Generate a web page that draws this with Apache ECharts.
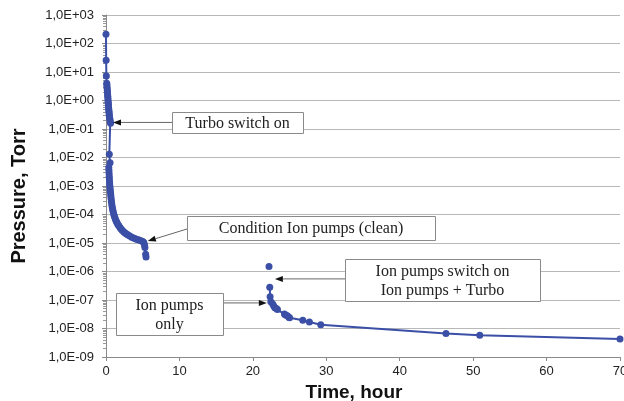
<!DOCTYPE html>
<html>
<head>
<meta charset="utf-8">
<script src="https://cdn.jsdelivr.net/npm/echarts@6/dist/echarts.min.js"></script>
<style>
html,body{margin:0;padding:0;background:#fff;}
#c{width:624px;height:401px;}
</style>
</head>
<body>
<div id="c"></div>
<script>
// ---- DATA (time in hours, pressure in Torr) ----
// Pump-down with roughing + turbo
const timeA = [0.0, 0.02, 0.05, 0.10, 0.12, 0.14, 0.16, 0.18, 0.20, 0.22, 0.24, 0.26, 0.28, 0.30, 0.32, 0.34, 0.36, 0.38, 0.40, 0.42, 0.44, 0.46, 0.50, 0.54, 0.58, 0.62,
  0.45, 0.55, 0.38, 0.40, 0.42, 0.44, 0.46, 0.48, 0.50, 0.52, 0.55, 0.58, 0.61, 0.64, 0.67, 0.70, 0.74, 0.78, 0.82, 0.87, 0.92, 0.98, 1.05, 1.12, 1.20, 1.30, 1.40, 1.50, 1.62, 1.75, 1.90, 2.05, 2.20, 2.40, 2.60, 2.80, 3.00, 3.25, 3.50, 3.75, 4.00, 4.25, 4.50, 4.75, 5.00, 5.15, 5.25, 5.30, 5.40, 5.45];
const pressA = [210, 26, 7.2, 4.0, 3.5, 3.0, 2.6, 2.2, 1.9, 1.6, 1.4, 1.2, 1.0, 0.85, 0.75, 0.65, 0.55, 0.48, 0.42, 0.37, 0.32, 0.28, 0.24, 0.21, 0.18, 0.16,
  1.3e-2, 6.6e-3, 4.5e-3, 3.6e-3, 2.8e-3, 2.2e-3, 1.8e-3, 1.45e-3, 1.2e-3, 1.0e-3, 8.5e-4, 7.2e-4, 6.0e-4, 5.0e-4, 4.2e-4, 3.5e-4, 2.9e-4, 2.4e-4, 2.0e-4, 1.7e-4, 1.45e-4, 1.25e-4, 1.05e-4, 9.0e-5, 7.8e-5, 6.7e-5, 5.8e-5, 5.1e-5, 4.5e-5, 4.0e-5, 3.5e-5, 3.1e-5, 2.8e-5, 2.5e-5, 2.25e-5, 2.05e-5, 1.9e-5, 1.75e-5, 1.6e-5, 1.5e-5, 1.4e-5, 1.33e-5, 1.27e-5, 1.2e-5, 1.12e-5, 1.05e-5, 8.5e-6, 7.0e-6, 4.0e-6, 3.2e-6];
// Ion pumps switch on (single reading)
const timeB = [22.2];
const pressB = [1.5e-6];
// Ion pumps + turbo, then ion pumps only
const timeC = [22.3, 22.35, 22.45, 22.7, 22.85, 23.0, 23.2, 23.35, 24.3, 24.45, 24.7, 24.9, 25.0, 26.8, 27.7, 29.25, 46.3, 50.9, 70.0];
const pressC = [2.8e-7, 1.3e-7, 8.7e-8, 7.2e-8, 6.2e-8, 5.4e-8, 5.0e-8, 4.6e-8, 3.2e-8, 3.0e-8, 2.8e-8, 2.5e-8, 2.4e-8, 1.95e-8, 1.7e-8, 1.35e-8, 6.7e-9, 5.8e-9, 4.3e-9];

const xTicks = [0, 10, 20, 30, 40, 50, 60, 70];
const yTickLabels = ['1,0E-09','1,0E-08','1,0E-07','1,0E-06','1,0E-05','1,0E-04','1,0E-03','1,0E-02','1,0E-01','1,0E+00','1,0E+01','1,0E+02','1,0E+03'];

// annotations: text and the data point each arrow points to
const notes = [
  {text: 'Turbo switch on', tip: [0.95, 0.17]},
  {text: 'Condition Ion pumps (clean)', tip: [5.7, 1.17e-5]},
  {text: 'Ion pumps switch on\nIon pumps + Turbo', tip: [23.0, 5.5e-7]},
  {text: 'Ion pumps\nonly', tip: [21.9, 7.9e-8]}
];

const zip = (xs, ys) => xs.map((x, i) => [x, ys[i]]);
const COLOR = '#3b4fa6';
const FONT = '"Liberation Sans", Arial, sans-serif';
const SERIF = '"Liberation Serif", "Times New Roman", serif';

const chart = echarts.init(document.getElementById('c'), null, {renderer: 'canvas'});
const seriesBase = {
  type: 'line', symbol: 'circle', symbolSize: 7, showAllSymbol: true,
  itemStyle: {color: COLOR}, lineStyle: {color: COLOR, width: 2}, clip: false,
  animation: false
};
chart.setOption({
  animation: false,
  grid: {left: 106, right: 4, top: 15, bottom: 44, outerBoundsMode: 'none', containLabel: false},
  xAxis: {
    type: 'value', min: xTicks[0], max: xTicks[xTicks.length - 1], interval: 10,
    axisLine: {lineStyle: {color: '#8a8a8a', width: 1}},
    axisTick: {show: true, length: 4, lineStyle: {color: '#8a8a8a'}},
    splitLine: {show: false},
    axisLabel: {color: '#222', fontSize: 13, fontFamily: FONT, margin: 8}
  },
  yAxis: {
    type: 'log', logBase: 10, min: 1e-9, max: 1e3, interval: 1, splitNumber: 12,
    axisLine: {show: true, lineStyle: {color: '#8a8a8a', width: 1}},
    axisTick: {show: true, length: 4, lineStyle: {color: '#8a8a8a'}},
    minorTick: {show: true, splitNumber: 9, length: 3, lineStyle: {color: '#9a9a9a'}},
    splitLine: {show: true, lineStyle: {color: '#b8b8b8', width: 1.2}},
    axisLabel: {
      color: '#222', fontSize: 13, fontFamily: FONT, margin: 12, showMinLabel: true, showMaxLabel: true,
      formatter: v => yTickLabels[Math.round(Math.log10(v)) + 9]
    }
  },
  series: [
    Object.assign({}, seriesBase, {data: zip(timeA, pressA)}),
    Object.assign({}, seriesBase, {data: zip(timeB, pressB)}),
    Object.assign({}, seriesBase, {data: zip(timeC, pressC)})
  ]
});

// axis titles and annotation boxes (layout in pixels), arrows point to data positions
const els = [
  {type: 'text', x: 19, y: 196, rotation: Math.PI / 2,
   style: {text: 'Pressure, Torr', fill: '#111', font: 'bold 20px ' + FONT, align: 'center', verticalAlign: 'middle'}},
  {type: 'text', x: 354, y: 393,
   style: {text: 'Time, hour', fill: '#111', font: 'bold 19px ' + FONT, align: 'center', verticalAlign: 'middle'}}
];
const boxes = [
  {x: 172, y: 112, w: 131, h: 21, from: 'left'},
  {x: 187, y: 216, w: 248, h: 24, from: 'left'},
  {x: 345, y: 259, w: 195, h: 42, from: 'left'},
  {x: 116, y: 293, w: 107, h: 42, from: 'right'}
];
notes.forEach((n, i) => {
  const b = boxes[i];
  const tip = chart.convertToPixel({gridIndex: 0}, n.tip);
  const sx = b.from === 'left' ? b.x : b.x + b.w;
  const sy = (i === 1) ? b.y + b.h / 2 + 1 : tip[1];
  const dx = tip[0] - sx, dy = tip[1] - sy;
  const len = Math.sqrt(dx * dx + dy * dy);
  const ux = dx / len, uy = dy / len;
  const hl = 8, hw = 3;
  const bx = tip[0] - ux * hl, by = tip[1] - uy * hl;
  els.push({type: 'line', z: 100, shape: {x1: sx, y1: sy, x2: bx, y2: by}, style: {stroke: '#666', lineWidth: 1}});
  els.push({type: 'polygon', z: 100, shape: {points: [[tip[0], tip[1]], [bx - uy * hw, by + ux * hw], [bx + uy * hw, by - ux * hw]]}, style: {fill: '#111'}});
  els.push({type: 'rect', z: 100, shape: {x: b.x + 0.5, y: b.y + 0.5, width: b.w, height: b.h}, style: {fill: '#fff', stroke: '#8a8a8a', lineWidth: 1}});
  els.push({type: 'text', z: 101, x: b.x + b.w / 2, y: b.y + b.h / 2 + 1, style: {text: n.text, fill: '#222', font: '16px ' + SERIF, align: 'center', verticalAlign: 'middle', lineHeight: 19}});
});
chart.setOption({graphic: els});
</script>
</body>
</html>
